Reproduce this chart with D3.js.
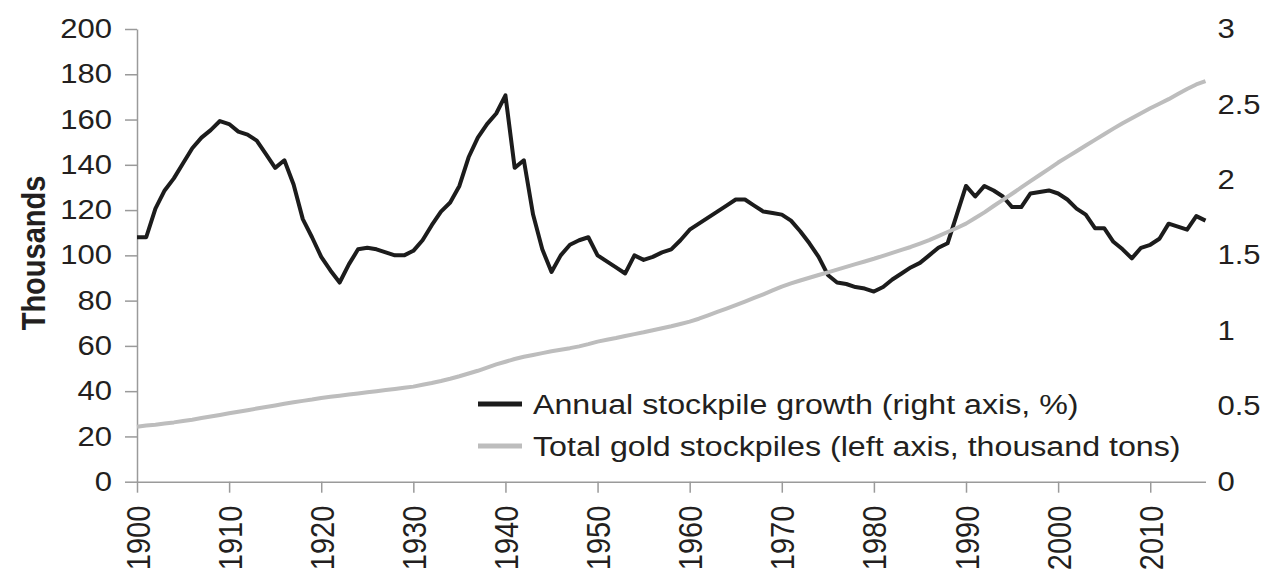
<!DOCTYPE html>
<html>
<head>
<meta charset="utf-8">
<script src="https://cdn.jsdelivr.net/npm/d3@7"></script>
<style>
  body { margin: 0; background: #fff; }
  svg text { font-family: "Liberation Sans", Arial, sans-serif; fill: #231f20; }
</style>
</head>
<body>
<svg id="chart"></svg>
<script>
// years on the category axis
const years = d3.range(1900, 2017);
const decadeTicks = [1900, 1910, 1920, 1930, 1940, 1950, 1960, 1970, 1980, 1990, 2000, 2010];
const leftTicks = [0, 20, 40, 60, 80, 100, 120, 140, 160, 180, 200];
const rightTicks = [0, 0.5, 1, 1.5, 2, 2.5, 3];

// annual stockpile growth, % (right axis)
const growth = [
  1.62, 1.62, 1.81, 1.93, 2.01, 2.11, 2.21, 2.28, 2.33, 2.39,
  2.37, 2.32, 2.30, 2.26, 2.17, 2.08, 2.13, 1.97, 1.74, 1.62,
  1.49, 1.40, 1.32, 1.44, 1.54, 1.55, 1.54, 1.52, 1.50, 1.50,
  1.53, 1.60, 1.70, 1.79, 1.85, 1.96, 2.15, 2.28, 2.37, 2.44,
  2.56, 2.08, 2.13, 1.77, 1.54, 1.39, 1.50, 1.57, 1.60, 1.62,
  1.50, 1.46, 1.42, 1.38, 1.50, 1.47, 1.49, 1.52, 1.54, 1.60,
  1.67, 1.71, 1.75, 1.79, 1.83, 1.87, 1.87, 1.83, 1.79, 1.78,
  1.77, 1.73, 1.66, 1.58, 1.49, 1.37, 1.32, 1.31, 1.29, 1.28,
  1.26, 1.29, 1.34, 1.38, 1.42, 1.45, 1.50, 1.55, 1.58, 1.77,
  1.96, 1.89, 1.96, 1.93, 1.89, 1.82, 1.82, 1.91, 1.92, 1.93,
  1.91, 1.87, 1.81, 1.77, 1.68, 1.68, 1.59, 1.54, 1.48, 1.55,
  1.57, 1.61, 1.71, 1.69, 1.67, 1.76, 1.73
];

// total gold stockpiles, thousand tons (left axis)
const stockpile = [
  24.3, 24.8, 25.2, 25.7, 26.2, 26.8, 27.4, 28.1, 28.8, 29.5,
  30.2, 30.9, 31.6, 32.3, 33.0, 33.7, 34.4, 35.1, 35.7, 36.3,
  37.0, 37.5, 38.0, 38.5, 39.0, 39.5, 40.0, 40.5, 41.0, 41.5,
  42.0, 42.8, 43.6, 44.5, 45.5, 46.6, 47.8, 49.0, 50.4, 51.8,
  53.0, 54.2, 55.2, 56.0, 56.8, 57.6, 58.3, 59.0, 59.8, 60.8,
  61.9, 62.7, 63.5, 64.4, 65.2, 66.0, 66.9, 67.8, 68.7, 69.7,
  70.7, 72.0, 73.5, 75.0, 76.5, 78.0, 79.6, 81.2, 82.8, 84.5,
  86.2, 87.6, 88.9, 90.1, 91.3, 92.5, 93.7, 94.9, 96.1, 97.3,
  98.5, 99.8, 101.1, 102.4, 103.7, 105.2, 106.7, 108.5, 110.3, 112.1,
  114.0, 116.5, 119.0, 121.8, 124.5, 127.2, 130.0, 132.8, 135.5, 138.2,
  141.0, 143.5, 146.0, 148.5, 151.0, 153.5, 156.0, 158.4, 160.6, 162.8,
  165.0, 167.0, 169.0, 171.3, 173.5, 175.5, 177.0
];

const seriesNames = [
  "Annual stockpile growth (right axis, %)",
  "Total gold stockpiles (left axis, thousand tons)"
];

const width = 1271, height = 579;
const margin = { top: 29, right: 65.5, bottom: 97.3, left: 137 };
const innerW = width - margin.left - margin.right;
const innerH = height - margin.top - margin.bottom;
const sx = 1.15;   // source image is a bit stretched sideways
const axisColor = "#9a9a9a";
const black = "#1c1c1c", grey = "#bdbdbd";

const svg = d3.select("#chart").attr("width", width).attr("height", height);
const g = svg.append("g").attr("transform", `translate(${margin.left},${margin.top})`);

const x = d3.scaleLinear().domain([1900, 2016]).range([0, innerW]);
const yLeft = d3.scaleLinear().domain([0, 200]).range([innerH, 0]);
const yRight = d3.scaleLinear().domain([0, 3]).range([innerH, 0]);

function stretchText(sel) {
  sel.selectAll("text").each(function() {
    const t = d3.select(this);
    t.attr("x", (+t.attr("x") || 0) / sx).attr("transform", `scale(${sx},1)`);
  });
}

// left axis
const leftAxis = g.append("g")
  .call(d3.axisLeft(yLeft).tickValues(leftTicks).tickSize(12).tickPadding(13).tickSizeOuter(0));
leftAxis.select(".domain").attr("stroke", axisColor).attr("stroke-width", 1.5);
leftAxis.selectAll(".tick line").attr("stroke", axisColor).attr("stroke-width", 1.5);
leftAxis.selectAll("text").style("font-size", "27px").attr("fill", "#231f20");
stretchText(leftAxis);

// right axis: labels only
const rightAxis = g.append("g")
  .attr("transform", `translate(${innerW},0)`)
  .call(d3.axisRight(yRight).tickValues(rightTicks).tickSize(0).tickPadding(12)
    .tickFormat(d3.format("")));
rightAxis.select(".domain").remove();
rightAxis.selectAll("text").style("font-size", "27px").attr("fill", "#231f20");
stretchText(rightAxis);

// bottom axis
const bottomAxis = g.append("g")
  .attr("transform", `translate(0,${innerH})`)
  .call(d3.axisBottom(x).tickValues(decadeTicks).tickSize(11).tickSizeOuter(0).tickFormat(d3.format("d")));
bottomAxis.select(".domain").attr("stroke", axisColor).attr("stroke-width", 1.5);
bottomAxis.selectAll(".tick line").attr("stroke", axisColor).attr("stroke-width", 1.5);
bottomAxis.selectAll("text")
  .style("font-size", "29px")
  .attr("fill", "#231f20")
  .attr("text-anchor", "end")
  .attr("x", -24)
  .attr("y", 0)
  .attr("dy", "0.36em")
  .attr("transform", `scale(${sx},1) rotate(-90)`);

// y title
svg.append("text")
  .attr("transform", `translate(45,253) scale(${sx},1) rotate(-90)`)
  .attr("text-anchor", "middle")
  .attr("font-weight", "bold")
  .style("font-size", "29px")
  .text("Thousands");

// lines
const growthLine = d3.line().x((d, i) => x(years[i])).y(d => yRight(d));
const stockLine = d3.line().x((d, i) => x(years[i])).y(d => yLeft(d));

g.append("path")
  .datum(growth)
  .attr("d", growthLine)
  .attr("fill", "none")
  .attr("stroke", black)
  .attr("stroke-width", 4)
  .attr("stroke-linejoin", "round");

g.append("path")
  .datum(stockpile)
  .attr("d", stockLine)
  .attr("fill", "none")
  .attr("stroke", grey)
  .attr("stroke-width", 4)
  .attr("stroke-linejoin", "round");

// legend
const legend = svg.append("g").attr("transform", "translate(478,404)");
const items = legend.selectAll("g")
  .data(seriesNames)
  .join("g")
  .attr("transform", (d, i) => `translate(0,${i * 42})`);
items.append("line")
  .attr("x1", 0).attr("x2", 44)
  .attr("stroke", (d, i) => i === 0 ? black : grey)
  .attr("stroke-width", 5);
items.append("text")
  .attr("transform", `translate(55,0) scale(${sx},1)`)
  .attr("dy", "0.35em")
  .style("font-size", "28px")
  .text(d => d);
</script>
</body>
</html>
